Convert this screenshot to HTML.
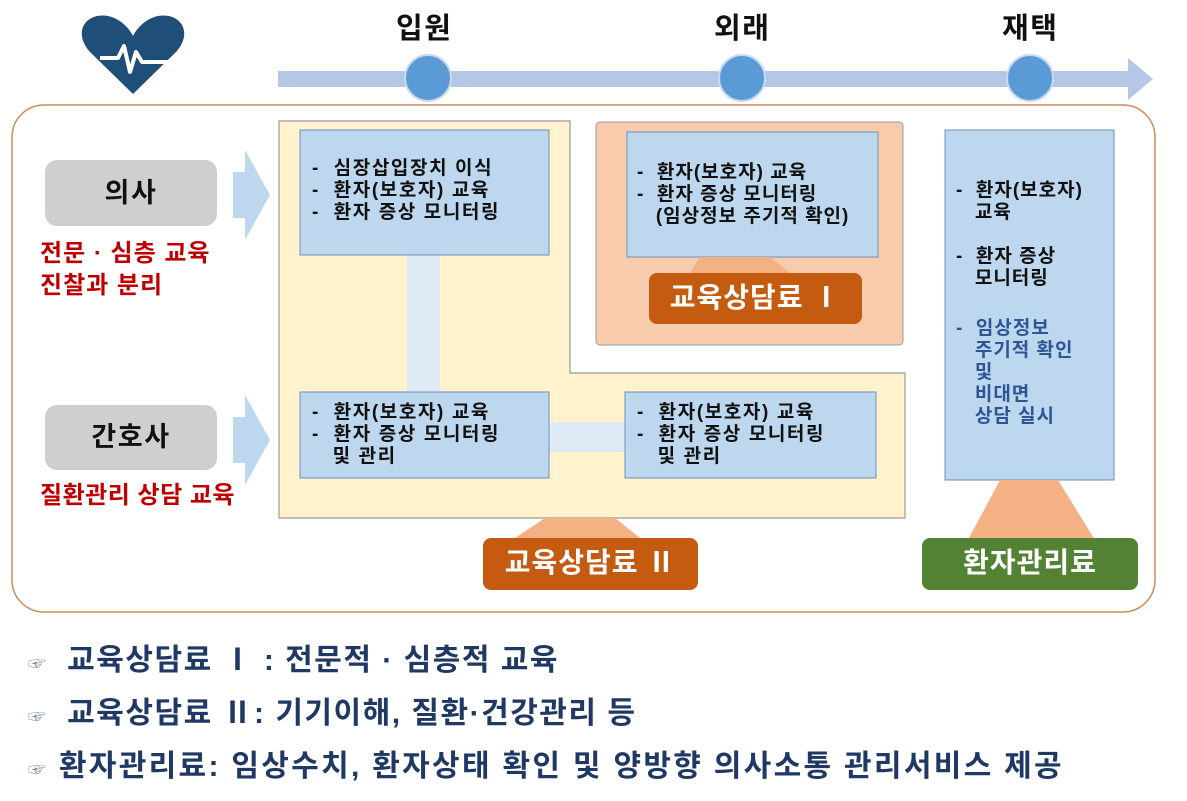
<!DOCTYPE html>
<html><head><meta charset="utf-8"><style>
body{margin:0;width:1187px;height:801px;background:#fff;position:relative;overflow:hidden;font-family:"Liberation Sans","Noto Sans CJK KR","NanumGothic",sans-serif;}
.a{position:absolute}
.t{font-weight:bold;color:#111;font-size:19px;line-height:22px;white-space:pre;letter-spacing:1.6px}
</style></head><body>
<svg class="a" style="left:0;top:0" width="1187" height="801">
<path d="M133 94 L90 52 C72 32 86 12 108 16 C122 19 130 30 133 36 C136 30 144 19 158 16 C180 12 194 32 176 52 Z" fill="#1f4e79"/>
<polyline points="100,58 118,58 124,46 130,72 136,52 142,62 168,62" fill="none" stroke="#fff" stroke-width="4" stroke-linejoin="round"/>
<rect x="278" y="71" width="852" height="16" fill="#b4c7e7"/>
<polygon points="1128,58 1153,79 1128,100" fill="#b4c7e7"/>
<circle cx="428" cy="78" r="23" fill="#5b9bd5" stroke="#c9d9ef" stroke-width="2"/>
<circle cx="742" cy="78" r="23" fill="#5b9bd5" stroke="#c9d9ef" stroke-width="2"/>
<circle cx="1030" cy="78" r="23" fill="#5b9bd5" stroke="#c9d9ef" stroke-width="2"/>
<rect x="12" y="105" width="1143" height="507" rx="32" fill="#fff" stroke="#d08a5a" stroke-width="1.5"/>
<path d="M279 121 H570 V373 H905 V518 H279 Z" fill="#fff2cc" stroke="#999" stroke-width="1.2"/>
<rect x="407" y="255" width="33" height="138" fill="#deebf7"/>
<rect x="549" y="422" width="77" height="30" fill="#deebf7"/>
<rect x="300" y="130" width="249" height="125" fill="#bdd7ee" stroke="#6d8fb8"/>
<rect x="300" y="392" width="249" height="86" fill="#bdd7ee" stroke="#6d8fb8"/>
<rect x="625" y="392" width="251" height="86" fill="#bdd7ee" stroke="#6d8fb8"/>
<rect x="596" y="122" width="307" height="223" rx="4" fill="#f8cbad" stroke="#999"/>
<rect x="627" y="132" width="251" height="125" fill="#bdd7ee" stroke="#6d8fb8"/>
<polygon points="690,273 700,257 770,257 790,273" fill="#f4b183"/>
<rect x="649" y="273" width="213" height="51" rx="8" fill="#c55a11"/>
<polygon points="515,538 545,518 615,518 640,538" fill="#f4b183"/>
<rect x="483" y="538" width="215" height="52" rx="8" fill="#c55a11"/>
<rect x="945" y="130" width="169" height="350" fill="#bdd7ee" stroke="#6d8fb8"/>
<polygon points="968,540 1000,480 1058,480 1095,540" fill="#f4b183"/>
<rect x="922" y="538" width="216" height="52" rx="8" fill="#548235"/>
<rect x="45" y="160" width="172" height="66" rx="12" fill="#d0cece"/>
<rect x="45" y="405" width="172" height="65" rx="12" fill="#d0cece"/>
<polygon points="233,172 245,172 245,150 270,195 245,240 245,218 233,218" fill="#bdd7ee"/>
<polygon points="233,417 245,417 245,395 270,440 245,485 245,463 233,463" fill="#bdd7ee"/>
</svg>
<div class="a t" style="top:12px;left:396px;font-size:29px;line-height:34px">입원</div>
<div class="a t" style="top:12px;left:714px;font-size:29px;line-height:34px">외래</div>
<div class="a t" style="top:12px;left:1002px;font-size:29px;line-height:34px">재택</div>
<div class="a t" style="left:45px;top:176px;width:172px;text-align:center;font-size:27px;line-height:34px">의사</div>
<div class="a t" style="left:45px;top:420px;width:172px;text-align:center;font-size:27px;line-height:34px">간호사</div>
<div class="a t" style="left:40px;top:238px;color:#c00000;font-size:24px;line-height:32px;letter-spacing:1px">전문 · 심층 교육
진찰과 분리</div>
<div class="a t" style="left:40px;top:480px;color:#c00000;font-size:24px;line-height:32px;letter-spacing:0.5px">질환관리 상담 교육</div>
<div class="a t" style="left:312px;top:158px">-  심장삽입장치 이식
-  환자(보호자) 교육
-  환자 증상 모니터링</div>
<div class="a t" style="left:312px;top:402px">-  환자(보호자) 교육
-  환자 증상 모니터링
   및 관리</div>
<div class="a t" style="left:637px;top:402px">-  환자(보호자) 교육
-  환자 증상 모니터링
   및 관리</div>
<div class="a t" style="left:637px;top:162px;letter-spacing:1px">-  환자(보호자) 교육
-  환자 증상 모니터링
   (임상정보 주기적 확인)</div>
<div class="a t" style="left:956px;top:180px;letter-spacing:1px">-  환자(보호자)
   교육

-  환자 증상
   모니터링</div>
<div class="a t" style="left:956px;top:318px;color:#2f5597;letter-spacing:1px">-  임상정보
   주기적 확인
   및
   비대면
   상담 실시</div>
<div class="a t" style="left:649px;top:282px;width:213px;text-align:center;color:#fff;font-size:28px;line-height:32px;letter-spacing:1px">교육상담료 Ⅰ</div>
<div class="a t" style="left:483px;top:547px;width:215px;text-align:center;color:#fff;font-size:28px;line-height:32px;letter-spacing:1px">교육상담료 Ⅱ</div>
<div class="a t" style="left:922px;top:547px;width:216px;text-align:center;color:#fff;font-size:28px;line-height:32px;letter-spacing:1px">환자관리료</div>
<div class="a t" style="left:28px;top:642px;color:#1f3864;font-size:30px;line-height:38px;letter-spacing:1.5px"><span style="color:#7f8fa6;font-size:18px;font-weight:normal">☞</span>  교육상담료 Ⅰ : 전문적 · 심층적 교육</div>
<div class="a t" style="left:28px;top:695px;color:#1f3864;font-size:30px;line-height:38px;letter-spacing:1.5px"><span style="color:#7f8fa6;font-size:18px;font-weight:normal">☞</span>  교육상담료 Ⅱ: 기기이해, 질환·건강관리 등</div>
<div class="a t" style="left:28px;top:748px;color:#1f3864;font-size:30px;line-height:38px;letter-spacing:2.3px"><span style="color:#7f8fa6;font-size:18px;font-weight:normal">☞</span> 환자관리료: 임상수치, 환자상태 확인 및 양방향 의사소통 관리서비스 제공</div>
</body></html>
